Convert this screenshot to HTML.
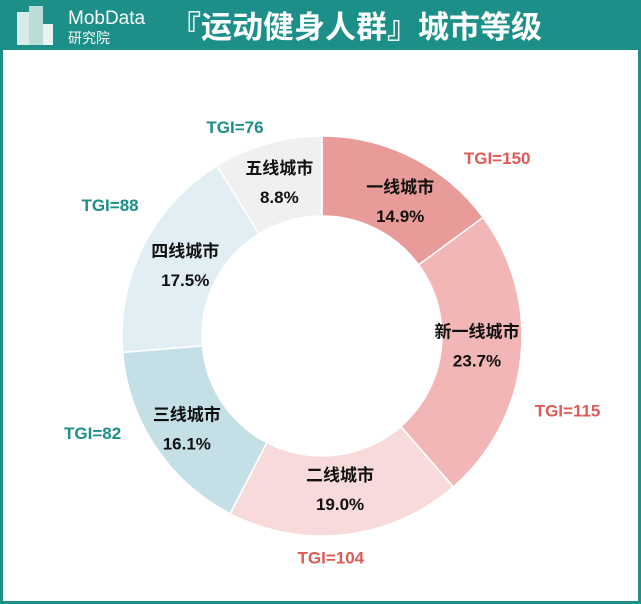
<!DOCTYPE html>
<html><head><meta charset="utf-8"><style>
html,body{margin:0;padding:0;width:641px;height:604px;overflow:hidden;background:#fff;font-family:"Liberation Sans","Noto Sans CJK SC",sans-serif}
#frame{position:absolute;left:0;top:0;width:641px;height:604px;box-sizing:border-box;border:3px solid #1b8f88;border-top:none}
#hdr{position:absolute;left:0;top:0;width:641px;height:50px;background:#1b8f88}
</style></head><body>
<div id="frame"></div>
<div id="hdr">
<svg width="641" height="50">
<g>
<rect x="17" y="12" width="12" height="33" fill="#d7ece9"/>
<rect x="29" y="6" width="14" height="39" fill="#bcdcd8"/>
<rect x="43" y="24" width="10" height="21" fill="#e9f4f2"/>
</g>
<text x="68" y="24" fill="#fff" font-size="19">MobData</text>
<text x="68" y="43" fill="#fff" font-size="14">研究院</text>
<text x="170" y="38" fill="#fff" font-size="31" font-weight="bold">『运动健身人群』城市等级</text>
</svg></div>
<svg id="chart" width="641" height="604" style="position:absolute;left:0;top:0"></svg>
<script>
const categories=["一线城市","新一线城市","二线城市","三线城市","四线城市","五线城市"];
const shares=[14.9,23.7,19.0,16.1,17.5,8.8];
const tgi=[150,115,104,82,88,76];
const colors=["#e89b98","#f1b6b5","#f8dada","#c5dfe6","#e1eef3","#f0f0f0"];
const tgiShift=[[41,38],[-20,48],[-20,-19],[-3,-37],[29,-22],[-21,24]];
const lblShift=[[6,3],[-4,-13],[-1,-11],[-2,-1],[6,-4],[1,-5]];
const ns="http://www.w3.org/2000/svg";
const svg=document.getElementById('chart');
const cx=322,cy=336,R=200,r=120;
const total=shares.reduce((a,b)=>a+b,0);
function pt(a,rad){return [cx+rad*Math.sin(a),cy-rad*Math.cos(a)];}
let a0=0;
shares.forEach((v,i)=>{
 const a1=a0+v/total*2*Math.PI;
 const [x0,y0]=pt(a0,R),[x1,y1]=pt(a1,R),[x2,y2]=pt(a1,r),[x3,y3]=pt(a0,r);
 const lg=(a1-a0)>Math.PI?1:0;
 const p=document.createElementNS(ns,'path');
 p.setAttribute('d',`M${x0},${y0}A${R},${R} 0 ${lg} 1 ${x1},${y1}L${x2},${y2}A${r},${r} 0 ${lg} 0 ${x3},${y3}Z`);
 p.setAttribute('fill',colors[i]);p.setAttribute('stroke','#fff');p.setAttribute('stroke-width','1.5');
 
 
 svg.appendChild(p);
 const m=(a0+a1)/2;
 let [lx,ly]=pt(m,(R+r)/2);
 lx+=lblShift[i][0];ly+=lblShift[i][1];
 const t1=document.createElementNS(ns,'text');
 t1.setAttribute('x',lx);t1.setAttribute('y',ly-3);t1.setAttribute('text-anchor','middle');
 t1.setAttribute('font-size','17');t1.setAttribute('font-weight','bold');t1.setAttribute('fill','#111');
 t1.textContent=categories[i];
 
 
 svg.appendChild(t1);
 const t2=document.createElementNS(ns,'text');
 t2.setAttribute('x',lx);t2.setAttribute('y',ly+26);t2.setAttribute('text-anchor','middle');
 t2.setAttribute('font-size','17');t2.setAttribute('font-weight','bold');t2.setAttribute('fill','#111');
 t2.textContent=shares[i].toFixed(1)+'%';
 
 
 svg.appendChild(t2);
 const [tx,ty]=pt(m,R+42);
 const t3=document.createElementNS(ns,'text');
 t3.setAttribute('x',tx+(Math.sin(m)>0.3?25:Math.sin(m)<-0.3?-25:0)+tgiShift[i][0]);t3.setAttribute('y',ty+6+tgiShift[i][1]);t3.setAttribute('text-anchor','middle');
 t3.setAttribute('font-size','17');t3.setAttribute('font-weight','bold');
 t3.setAttribute('fill',tgi[i]>=100?'#e05a55':'#1b8f88');
 t3.textContent='TGI='+tgi[i];
 
 
 svg.appendChild(t3);
 a0=a1;
});
</script>
</body></html>
